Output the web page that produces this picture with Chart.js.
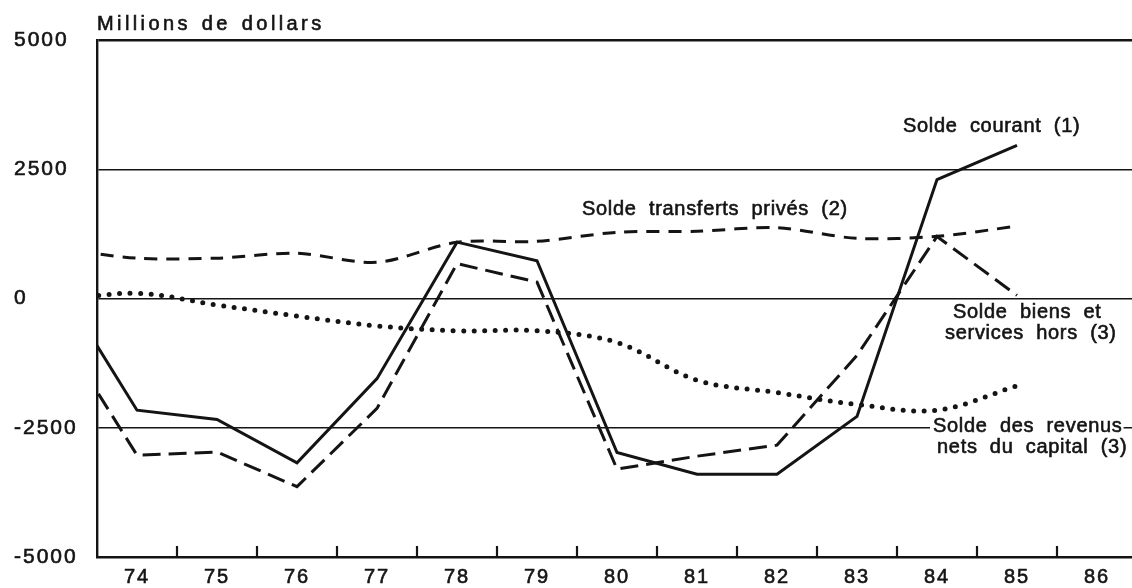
<!DOCTYPE html>
<html>
<head>
<meta charset="utf-8">
<script src="https://cdn.jsdelivr.net/npm/chart.js@4/dist/chart.umd.min.js"></script>
<style>
  html, body { margin: 0; padding: 0; background: #fff; }
  #wrap { width: 1132px; height: 588px; }
</style>
</head>
<body>
<div id="wrap"><canvas id="c" width="1132" height="588"></canvas></div>
<script>
// ---- data ----
const years = [1973, 1974, 1975, 1976, 1977, 1978, 1979, 1980, 1981, 1982, 1983, 1984, 1985];
const soldeCourant   = [ 337, -2160, -2340, -3180, -1550, 1090,  730, -2980, -3400, -3400, -2280, 2300, 2960];
const soldeBiens     = [-567, -3030, -2970, -3640, -2125,  675,  317, -3300, -3050, -2836, -1100, 1200,   60];
const soldeTransferts= [ 970,   780,   780,   875,   700, 1087, 1106,  1280,  1300,  1370,  1163, 1202, 1400];
const soldeRevenus   = [ -40,   100,  -125,  -340,  -530, -625, -625,  -850, -1580, -1820, -2050, -2160, -1690];

const xTickYears  = [1974, 1975, 1976, 1977, 1978, 1979, 1980, 1981, 1982, 1983, 1984, 1985, 1986];
const xTickLabels = ['74', '75', '76', '77', '78', '79', '80', '81', '82', '83', '84', '85', '86'];
const yTickValues = [-5000, -2500, 0, 2500, 5000];
const yTickLabels = ['-5000', '-2500', '0', '2500', '5000'];

const unitLabel = 'Millions de dollars';
const seriesNotes = [
  { lines: ['Solde courant (1)'], x: [1983.575], y: 3320, bg: false },
  { lines: ['Solde transferts privés (2)'], x: [1979.5625], y: 1718, bg: false },
  { lines: ['Solde biens et', 'services hors (3)'], x: [1984.2, 1984.1], y: -270, bg: false },
  { lines: ['Solde des revenus', 'nets du capital (3)'], x: [1983.95, 1984.0], y: -2471, bg: true }
];

const INK = '#141414';
const FONT = "'Liberation Sans', Helvetica, Arial, sans-serif";

function pts(arr) { return years.map((yr, i) => ({ x: yr, y: arr[i] })); }

const spacingPlugin = {
  id: 'spacing',
  beforeUpdate(chart) { try { chart.ctx.letterSpacing = '2px'; } catch (e) {} },
  beforeDraw(chart) { try { chart.ctx.letterSpacing = '2px'; } catch (e) {} }
};

const decorPlugin = {
  id: 'decor',
  afterDraw(chart) {
    const ctx = chart.ctx;
    const xs = chart.scales.x, ys = chart.scales.y;
    const area = chart.chartArea;
    ctx.save();
    // inner tick marks at year boundaries
    ctx.strokeStyle = INK;
    ctx.lineWidth = 2.2;
    for (let i = 0; i < xTickYears.length - 1; i++) {
      const px = Math.round(xs.getPixelForValue(xTickYears[i] + 0.5));
      if (px > area.right) continue;
      ctx.beginPath();
      ctx.moveTo(px, area.bottom);
      ctx.lineTo(px, area.bottom - 11);
      ctx.stroke();
    }
    ctx.fillStyle = INK;
    ctx.strokeStyle = INK;
    ctx.lineWidth = 0.6;
    // unit label
    ctx.font = '20px ' + FONT;
    try { ctx.letterSpacing = '3.4px'; ctx.wordSpacing = '2px'; } catch (e) {}
    ctx.textAlign = 'left';
    ctx.textBaseline = 'alphabetic';
    ctx.fillText(unitLabel, area.left, 30);
    ctx.strokeText(unitLabel, area.left, 30);
    // series notes
    ctx.font = '20px ' + FONT;
    try { ctx.letterSpacing = '0.7px'; ctx.wordSpacing = '6px'; } catch (e) {}
    ctx.textBaseline = 'middle';
    seriesNotes.forEach(n => {
      const py0 = ys.getPixelForValue(n.y);
      n.lines.forEach((t, k) => {
        const px = xs.getPixelForValue(n.x[k]);
        const py = py0 + k * 21;
        if (n.bg) {
          const w = ctx.measureText(t).width;
          ctx.fillStyle = '#fff';
          ctx.fillRect(px - 3, py - 10, w + 4, 20);
        }
        ctx.fillStyle = INK;
        ctx.fillText(t, px, py);
        ctx.strokeText(t, px, py);
      });
    });
    ctx.restore();
  }
};

new Chart(document.getElementById('c'), {
  type: 'line',
  data: {
    datasets: [
      {
        label: 'Solde courant (1)',
        data: pts(soldeCourant),
        borderColor: INK, borderWidth: 3, pointRadius: 0, tension: 0,
        borderJoinStyle: 'miter', clip: 0
      },
      {
        label: 'Solde biens et services hors (3)',
        data: pts(soldeBiens),
        borderColor: INK, borderWidth: 3, pointRadius: 0, tension: 0,
        borderDash: [18, 8], clip: 0
      },
      {
        label: 'Solde transferts privés (2)',
        data: pts(soldeTransferts),
        borderColor: INK, borderWidth: 3, pointRadius: 0, tension: 0.3,
        borderDash: [13, 9], clip: 0
      },
      {
        label: 'Solde des revenus nets du capital (3)',
        data: pts(soldeRevenus),
        borderColor: INK, borderWidth: 5, pointRadius: 0, tension: 0.35,
        borderDash: [0, 10.5], borderCapStyle: 'round', clip: 0
      }
    ]
  },
  options: {
    responsive: false,
    animation: false,
    devicePixelRatio: 1,
    layout: { padding: { top: 40, left: 14, right: 0, bottom: -9 } },
    plugins: { legend: { display: false }, tooltip: { enabled: false }, title: { display: false } },
    scales: {
      x: {
        type: 'linear',
        min: 1973.5,
        max: 1986.4375,
        afterBuildTicks(scale) { scale.ticks = xTickYears.map(v => ({ value: v })); },
        ticks: {
          autoSkip: false,
          maxRotation: 0,
          padding: 8,
          color: INK,
          textStrokeColor: INK,
          textStrokeWidth: 0.6,
          font: { family: FONT, size: 20 },
          callback(value) { const i = xTickYears.indexOf(value); return i >= 0 ? xTickLabels[i] : ''; }
        },
        grid: { display: true, drawOnChartArea: false, drawTicks: false },
        border: { display: true, color: INK, width: 2.4 }
      },
      y: {
        type: 'linear',
        min: -5000,
        max: 5000,
        afterBuildTicks(scale) { scale.ticks = yTickValues.map(v => ({ value: v })); },
        afterFit(scale) { scale.width = 83; },
        ticks: {
          crossAlign: 'far',
          color: INK,
          textStrokeColor: INK,
          textStrokeWidth: 0.6,
          font: { family: FONT, size: 21 },
          callback(value) { const i = yTickValues.indexOf(value); return i >= 0 ? yTickLabels[i] : ''; }
        },
        grid: {
          drawTicks: false,
          color: INK,
          lineWidth(ctx) {
            const v = ctx.tick && ctx.tick.value;
            if (v === 5000) return 2.4;
            if (v === -5000) return 0;
            return 1.4;
          }
        },
        border: { display: true, color: INK, width: 2.4 }
      }
    }
  },
  plugins: [spacingPlugin, decorPlugin]
});
</script>
</body>
</html>
